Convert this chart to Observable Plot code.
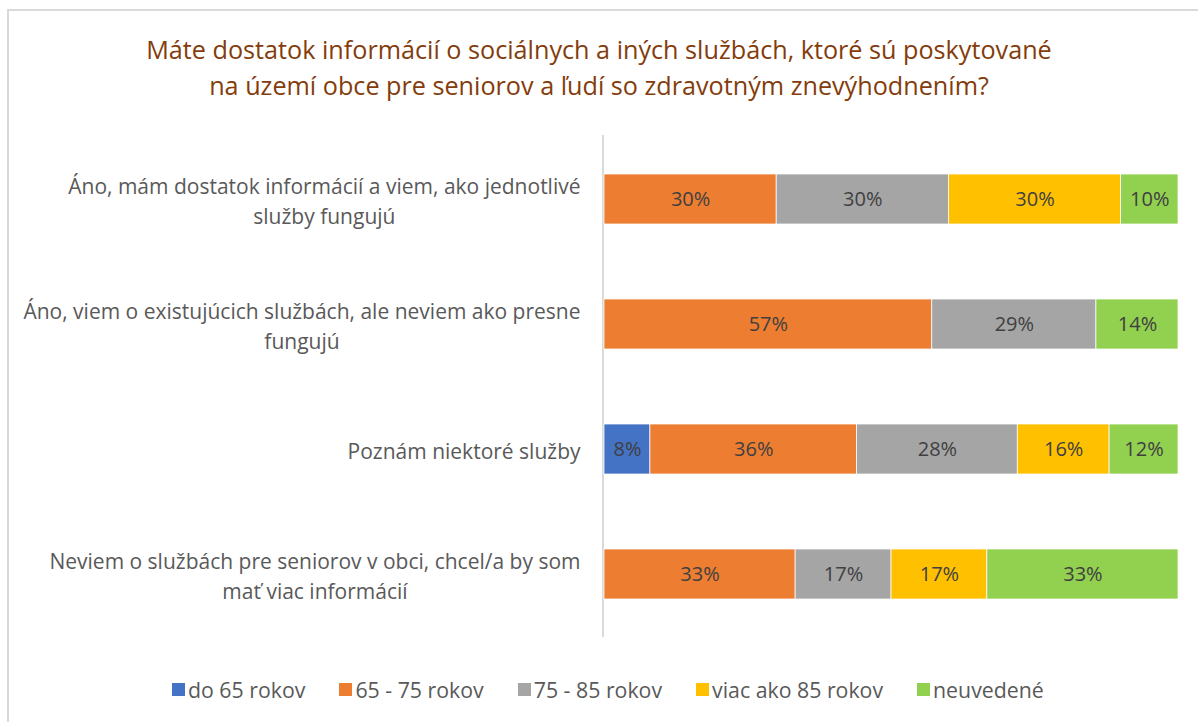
<!DOCTYPE html>
<html><head><meta charset="utf-8">
<script src="https://cdn.jsdelivr.net/npm/d3@7"></script>
<script src="https://cdn.jsdelivr.net/npm/@observablehq/plot@0.6"></script>
<style>
body{margin:0;background:#fff;font-family:"Open Sans",sans-serif;}
#frame{position:absolute;left:7px;top:9px;width:1200px;height:730px;border:2px solid #d9d9d9;box-sizing:border-box;}
#title{position:absolute;left:0;top:31px;width:1198px;text-align:center;color:#843C0C;font-size:25.2px;line-height:36px;}
#chart{position:absolute;left:0;top:120px;}
#legend{position:absolute;left:172px;top:675px;display:flex;gap:34px;color:#595959;font-size:21.3px;align-items:center;}
#legend .item{display:flex;align-items:center;gap:3px;}
#legend .sw{width:13px;height:13px;display:inline-block;}
</style></head><body>
<div id="frame"></div>
<div id="title">Máte dostatok informácií o sociálnych a iných službách, ktoré sú poskytované<br>na území obce pre seniorov a ľudí so zdravotným znevýhodnením?</div>
<div id="chart"></div>
<div id="legend"></div>
<script>
const categories = [
  "Áno, mám dostatok informácií a viem, ako jednotlivé\nslužby fungujú",
  "Áno, viem o existujúcich službách, ale neviem ako presne\nfungujú",
  "Poznám niektoré služby",
  "Neviem o službách pre seniorov v obci, chcel/a by som\nmať viac informácií"
];
const series = ["do 65 rokov", "65 - 75 rokov", "75 - 85 rokov", "viac ako 85 rokov", "neuvedené"];
const colors = ["#4472C4", "#ED7D31", "#A5A5A5", "#FFC000", "#92D050"];
const do65 = [0, 0, 8, 0];
const r65_75 = [30, 57.1, 36, 33.3];
const r75_85 = [30, 28.6, 28, 16.7];
const viac85 = [30, 0, 16, 16.7];
const neuvedene = [10, 14.3, 12, 33.3];

const seriesValues = [do65, r65_75, r75_85, viac85, neuvedene];
const data = [];
categories.forEach((c, i) => {
  series.forEach((s, j) => {
    const v = seriesValues[j][i];
    if (v > 0) data.push({cat: c, series: s, value: v});
  });
});

const FONT = "Open Sans";
const labelSize = 21;
const ctx = document.createElement("canvas").getContext("2d");
ctx.font = `${labelSize}px "${FONT}"`;
const labelMarks = categories.map(c => {
  const w = d3.max(c.split("\n"), l => ctx.measureText(l).width);
  return Plot.text([c], {
    y: d => d, text: d => d, frameAnchor: "left", textAnchor: "middle",
    dx: -24 - w / 2, lineHeight: 1.4, fontSize: labelSize, fill: "#595959", fontFamily: FONT
  });
});

const chart = Plot.plot({
  width: 1198,
  height: 527,
  marginLeft: 604,
  marginRight: 20,
  marginTop: 15,
  marginBottom: 10,
  style: {fontFamily: FONT, background: "transparent"},
  x: {domain: [0, 100], axis: null},
  y: {domain: categories, paddingInner: 0.6, paddingOuter: 0.3, axis: null},
  color: {domain: series, range: colors},
  marks: [
    Plot.ruleX([0], {stroke: "#d9d9d9", strokeWidth: 2, dx: -1.5}),
    Plot.barX(data, Plot.stackX({x: "value", y: "cat", fill: "series", order: series, stroke: "white", strokeWidth: 0.75})),
    Plot.text(data, Plot.stackX({x: "value", y: "cat", z: "series", order: series, text: d => Math.round(d.value) + "%", fill: "#404040", fontSize: 20, fontFamily: FONT})),
    ...labelMarks
  ]
});
document.getElementById("chart").appendChild(chart);

const legend = d3.select("#legend");
series.forEach((s, i) => {
  const item = legend.append("div").attr("class", "item");
  item.append("span").attr("class", "sw").style("background", colors[i]);
  item.append("span").text(s);
});
</script>
</body></html>
